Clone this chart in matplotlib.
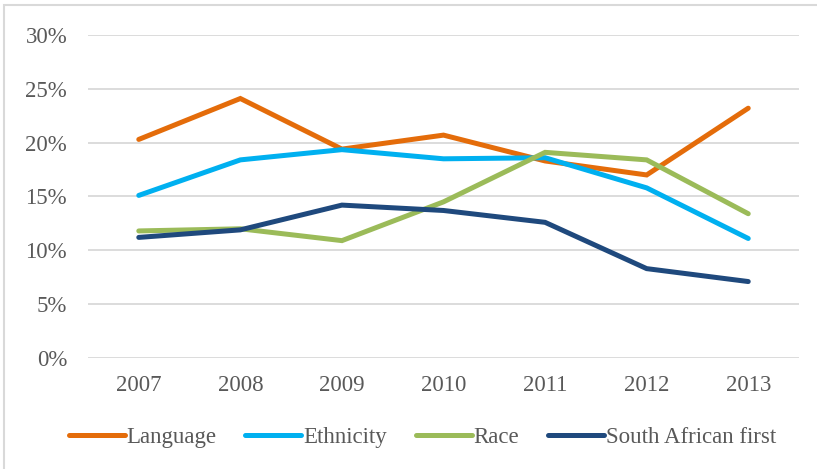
import matplotlib
matplotlib.use("Agg")
import matplotlib.pyplot as plt
from matplotlib.patches import Rectangle
from matplotlib.ticker import PercentFormatter

# values (percent)
years = ["2007", "2008", "2009", "2010", "2011", "2012", "2013"]
language = [20.3, 24.1, 19.4, 20.7, 18.3, 17.0, 23.2]
ethnicity = [15.1, 18.4, 19.35, 18.5, 18.6, 15.8, 11.1]
race = [11.8, 12.0, 10.9, 14.5, 19.1, 18.4, 13.4]
sa_first = [11.2, 11.9, 14.2, 13.7, 12.6, 8.3, 7.1]

series = [
    ("Language", language, "#E46C0A"),
    ("Ethnicity", ethnicity, "#00B0F0"),
    ("Race", race, "#9BBB59"),
    ("South African first", sa_first, "#1F497D"),
]

plt.rcParams["font.family"] = ["Liberation Serif", "DejaVu Serif"]
txt_col = "#595959"
fsize = 16.5

fig = plt.figure(figsize=(8.17, 4.69), dpi=100)
ax = fig.add_axes([0.1077, 0.2367, 0.8703, 0.6887])

x = list(range(len(years)))
for name, vals, col in series:
    ax.plot(x, [v / 100 for v in vals], color=col, lw=3.6,
            solid_capstyle="round", solid_joinstyle="miter", label=name)

ax.set_xlim(-0.5, len(years) - 0.5)
ax.set_ylim(0, 0.30)
ax.set_yticks([i * 0.05 for i in range(7)])
ax.yaxis.set_major_formatter(PercentFormatter(1.0, decimals=0))
ax.set_xticks(x)
ax.set_xticklabels(years)
ax.grid(axis="y", color="#D9D9D9", lw=1.3)
ax.set_axisbelow(True)
for s in ax.spines.values():
    s.set_visible(False)
ax.tick_params(axis="both", length=0, labelsize=fsize, colors=txt_col)
ax.tick_params(axis="y", pad=15)
ax.tick_params(axis="x", pad=12)

fig.legend(loc="center", bbox_to_anchor=(0.517, 0.068), ncol=4, frameon=False,
           fontsize=fsize, handlelength=2.45, handletextpad=0.08,
           columnspacing=1.25, labelcolor=txt_col)

# light border round the chart area
fig.patches.append(Rectangle((0.005, -0.01), 1.2, 1.0, transform=fig.transFigure,
                             fill=False, edgecolor="#D9D9D9", lw=1.5))

fig.savefig("out.png", dpi=100)
